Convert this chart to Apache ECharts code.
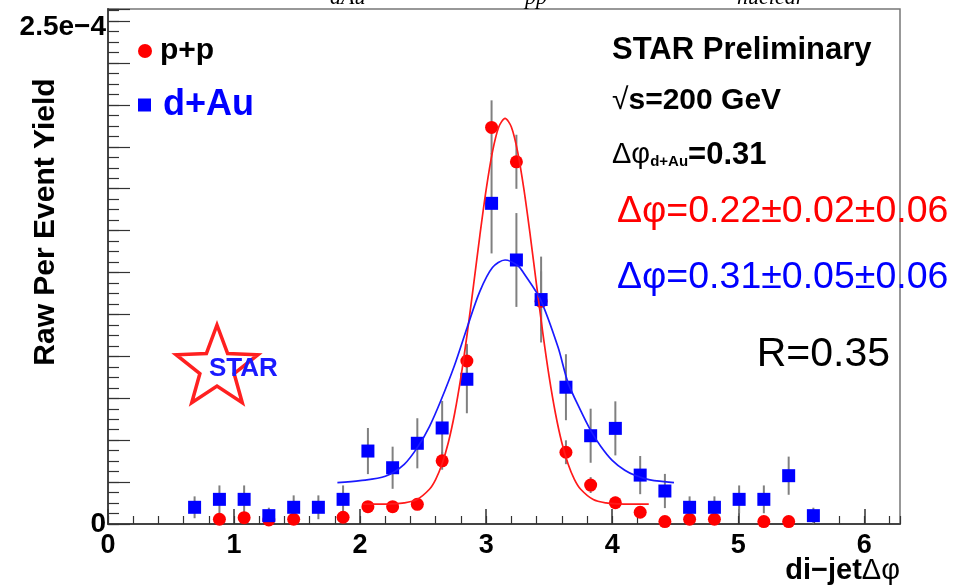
<!DOCTYPE html>
<html>
<head>
<meta charset="utf-8">
<script src="https://cdn.jsdelivr.net/npm/echarts@6/dist/echarts.min.js"></script>
<style>
html,body{margin:0;padding:0;background:#fff;}
#chart{width:955px;height:588px;}
</style>
</head>
<body>
<div id="chart"></div>
<script>
// Bin centres (di-jet delta phi)
const phiBins = [0.687,0.884,1.080,1.276,1.473,1.669,1.865,2.062,2.258,2.454,2.651,2.847,3.043,3.240,3.436,3.633,3.829,4.025,4.222,4.418,4.614,4.811,5.007,5.203,5.400,5.596];
// p+p raw per event yield (units of 1e-4)
const ppYield = [null,0.024,0.032,0.020,0.024,null,0.034,0.087,0.087,0.099,0.318,0.820,1.995,1.822,1.120,0.361,0.196,0.107,0.059,0.012,0.024,0.024,null,0.012,0.012,null];
const ppErr   = [null,0.025,0.025,0.025,0.025,null,0.025,0.025,0.025,0.025,0.045,0.086,0.136,0.136,0.151,0.060,0.040,0.030,0.025,0.025,0.025,0.025,null,0.025,0.025,null];
// d+Au raw per event yield (units of 1e-4)
const dAuYield = [0.084,0.124,0.124,0.042,0.084,0.084,0.124,0.367,0.283,0.406,0.483,0.728,1.613,1.328,1.129,0.688,0.444,0.481,0.246,0.166,0.084,0.084,0.124,0.124,0.243,0.042];
const dAuErr   = [0.055,0.070,0.070,0.040,0.060,0.060,0.070,0.116,0.106,0.126,0.136,0.171,0.252,0.236,0.216,0.166,0.136,0.136,0.096,0.086,0.055,0.055,0.070,0.070,0.096,0.040];
// Fit curves
const ppFitPhi = [2.02,2.15,2.25,2.35,2.45,2.55,2.60,2.65,2.70,2.75,2.80,2.85,2.90,2.95,3.00,3.05,3.10,3.15,3.20,3.25,3.30,3.35,3.40,3.45,3.50,3.55,3.60,3.65,3.70,3.75,3.85,3.95,4.05,4.15,4.29];
const ppFitVal = [0.100,0.100,0.101,0.106,0.123,0.175,0.225,0.302,0.410,0.556,0.740,0.959,1.202,1.451,1.682,1.872,1.997,2.040,1.997,1.872,1.682,1.451,1.202,0.959,0.740,0.556,0.410,0.302,0.225,0.175,0.123,0.106,0.101,0.100,0.100];
const dAuFitPhi = [1.82,2.00,2.20,2.35,2.46,2.55,2.64,2.75,2.85,2.95,3.05,3.15,3.25,3.30,3.43,3.57,3.65,3.75,3.83,3.91,4.00,4.10,4.18,4.30,4.49];
const dAuFitVal = [0.208,0.218,0.240,0.300,0.390,0.490,0.620,0.800,0.990,1.170,1.290,1.328,1.300,1.260,1.130,0.890,0.710,0.570,0.470,0.390,0.320,0.270,0.245,0.222,0.208];
// Axis tick labels
const xTickLabels = ['0','1','2','3','4','5','6'];
const yTickLabels = {0: '0', 2.5: '2.5e\u22124'};

const FONT = '"Liberation Sans", Arial, Helvetica, sans-serif';
const chart = echarts.init(document.getElementById('chart'), null, {renderer: 'canvas'});

function pts(xs, ys) {
  const out = [];
  xs.forEach((x, i) => { if (ys[i] !== null && ys[i] !== undefined) out.push([x, ys[i]]); });
  return out;
}
function errPts(xs, ys, es) {
  const out = [];
  xs.forEach((x, i) => { if (ys[i] !== null && ys[i] !== undefined) out.push([x, ys[i], es[i]]); });
  return out;
}
function errRender(params, api) {
  const x = api.value(0), y = api.value(1), e = api.value(2);
  const a = api.coord([x, y + e]);
  const b = api.coord([x, Math.max(0, y - e)]);
  return {type: 'line', shape: {x1: a[0], y1: a[1], x2: b[0], y2: b[1]},
          style: {stroke: '#808080', lineWidth: 2}};
}
const XMAX = 6.2832, YMAX = 2.5905, YMAJ = 0.2108;

function starPoints(cx, cy, R, r) {
  const p = [];
  for (let k = 0; k < 10; k++) {
    const ang = -Math.PI / 2 + k * Math.PI / 5;
    const rad = k % 2 === 0 ? R : r;
    p.push([cx + rad * Math.cos(ang), cy + rad * Math.sin(ang)]);
  }
  return p;
}

const tickCol = '#333';
const option = {
  animation: false,
  backgroundColor: '#fff',
  grid: {left: 108, right: 55, top: 9, bottom: 64, show: true, borderColor: '#777', borderWidth: 1.5, backgroundColor: 'transparent'},
  xAxis: [
    {type: 'value', min: 0, max: XMAX, interval: 1, position: 'bottom',
     axisLine: {show: true, onZero: false, lineStyle: {color: '#444', width: 2}},
     axisTick: {show: true, inside: true, length: 15, lineStyle: {color: tickCol, width: 1.5}},
     axisLabel: {show: true, showMaxLabel: false, margin: 8, color: '#000', fontSize: 27, fontWeight: 'bold', fontFamily: FONT,
       formatter: v => { const i = Math.round(v); return Math.abs(v - i) < 1e-6 && xTickLabels[i] !== undefined ? xTickLabels[i] : ''; }},
     splitLine: {show: false}},
    {type: 'value', min: 0, max: XMAX, interval: 0.2, position: 'bottom',
     axisLine: {show: false}, axisLabel: {show: false}, splitLine: {show: false},
     axisTick: {show: true, inside: true, length: 8, lineStyle: {color: tickCol, width: 1.2}}}
  ],
  yAxis: [
    {type: 'value', min: 0, max: YMAX, interval: 2.5, position: 'left',
     axisLine: {show: true, onZero: false, lineStyle: {color: '#444', width: 2}},
     axisTick: {show: false},
     axisLabel: {show: true, showMaxLabel: false, margin: 2, color: '#000', fontSize: 28, fontWeight: 'bold', fontFamily: FONT,
       formatter: v => { for (const k in yTickLabels) { if (Math.abs(v - Number(k)) < 1e-6) return yTickLabels[k]; } return ''; }},
     splitLine: {show: false}},
    {type: 'value', min: 0, max: YMAX, interval: YMAJ, position: 'left',
     axisLine: {show: false}, axisLabel: {show: false}, splitLine: {show: false},
     axisTick: {show: true, inside: true, length: 22, lineStyle: {color: tickCol, width: 1.2}}},
    {type: 'value', min: 0, max: YMAX, interval: YMAJ / 4, position: 'left',
     axisLine: {show: false}, axisLabel: {show: false}, splitLine: {show: false},
     axisTick: {show: true, inside: true, length: 11, lineStyle: {color: tickCol, width: 1.2}}}
  ],
  legend: [
    {data: [{name: 'p+p', icon: 'circle'}], left: 138, top: 36, padding: 0, itemWidth: 14, itemHeight: 14, itemGap: 0,
     selectedMode: false, textStyle: {fontSize: 30, fontWeight: 'bold', color: '#000', fontFamily: FONT, padding: [0, 0, 0, 3]}},
    {data: [{name: 'd+Au', icon: 'rect'}], left: 138, top: 87, padding: 0, itemWidth: 13, itemHeight: 13, itemGap: 0,
     selectedMode: false, textStyle: {fontSize: 36, fontWeight: 'bold', color: '#0000ff', fontFamily: FONT, padding: [0, 0, 0, 7]}}
  ],
  series: [
    {type: 'custom', name: 'ppErr', renderItem: errRender, data: errPts(phiBins, ppYield, ppErr), encode: {x: 0, y: 1}, z: 1, clip: true, silent: true},
    {type: 'custom', name: 'dAuErr', renderItem: errRender, data: errPts(phiBins, dAuYield, dAuErr), encode: {x: 0, y: 1}, z: 1, clip: true, silent: true},
    {type: 'scatter', name: 'p+p', data: pts(phiBins, ppYield), symbol: 'circle', symbolSize: 13,
     itemStyle: {color: '#ff0000', opacity: 1}, z: 3},
    {type: 'scatter', name: 'd+Au', data: pts(phiBins, dAuYield), symbol: 'rect', symbolSize: 13,
     itemStyle: {color: '#0000ff', opacity: 1}, z: 4},
    {type: 'line', name: 'ppFit', data: pts(ppFitPhi, ppFitVal), smooth: 0.3, showSymbol: false, symbol: 'none',
     lineStyle: {color: '#ff1a1a', width: 1.7}, z: 5, silent: true},
    {type: 'line', name: 'dAuFit', data: pts(dAuFitPhi, dAuFitVal), smooth: 0.3, showSymbol: false, symbol: 'none',
     lineStyle: {color: '#1a1aff', width: 1.7}, z: 5, silent: true}
  ],
  graphic: [
    // partially cut text at the very top
    {type: 'text', x: 330, y: 9, style: {text: 'dAu', font: 'italic 22px "Liberation Serif", serif', fill: '#000', align: 'left', verticalAlign: 'bottom', textAlign: 'left', textVerticalAlign: 'bottom'}},
    {type: 'text', x: 525, y: 9, style: {text: 'pp', font: 'italic 22px "Liberation Serif", serif', fill: '#000', align: 'left', verticalAlign: 'bottom', textAlign: 'left', textVerticalAlign: 'bottom'}},
    {type: 'text', x: 737, y: 9, style: {text: 'nuclear', font: 'italic 22px "Liberation Serif", serif', fill: '#000', align: 'left', verticalAlign: 'bottom', textAlign: 'left', textVerticalAlign: 'bottom'}},
    // axis titles
    {type: 'text', x: 46, y: 222, rotation: Math.PI / 2,
     style: {text: 'Raw Per Event Yield', font: 'bold 30px ' + FONT, fill: '#000', align: 'center', verticalAlign: 'middle', textAlign: 'center', textVerticalAlign: 'middle'}},
    {type: 'text', x: 900, y: 571,
     style: {text: '{b|di\u2212jet}{n|\u0394\u03c6}', align: 'right', verticalAlign: 'middle', textAlign: 'right', textVerticalAlign: 'middle',
       rich: {b: {fontSize: 29, fontWeight: 'bold', fontFamily: FONT, fill: '#000', color: '#000'},
              n: {fontSize: 29, fontFamily: FONT, fill: '#000', color: '#000'}}}},
    // annotations
    {type: 'text', x: 612, y: 50,
     style: {text: 'STAR Preliminary', font: 'bold 31px ' + FONT, fill: '#000', align: 'left', verticalAlign: 'middle', textAlign: 'left', textVerticalAlign: 'middle'}},
    {type: 'text', x: 612, y: 101,
     style: {text: '{n|\u221a}{b|s=200 GeV}', align: 'left', verticalAlign: 'middle', textAlign: 'left', textVerticalAlign: 'middle',
       rich: {n: {fontSize: 30, fontFamily: FONT, color: '#000', fill: '#000'},
              b: {fontSize: 30, fontWeight: 'bold', fontFamily: FONT, color: '#000', fill: '#000'}}}},
    {type: 'text', x: 612, y: 155,
     style: {text: '{n|\u0394\u03c6}{s|d+Au}{b|=0.31}', align: 'left', verticalAlign: 'middle', textAlign: 'left', textVerticalAlign: 'middle',
       rich: {n: {fontSize: 29, fontFamily: FONT, color: '#000', fill: '#000'},
              s: {fontSize: 15, fontWeight: 'bold', fontFamily: FONT, color: '#000', fill: '#000', padding: [14, 0, 0, 0]},
              b: {fontSize: 31, fontWeight: 'bold', fontFamily: FONT, color: '#000', fill: '#000'}}}},
    {type: 'text', x: 617, y: 212, z: 10,
     style: {text: '\u0394\u03c6=0.22\u00b10.02\u00b10.06', font: '37.5px ' + FONT, fill: '#ff0000', align: 'left', verticalAlign: 'middle', textAlign: 'left', textVerticalAlign: 'middle'}},
    {type: 'text', x: 617, y: 278, z: 10,
     style: {text: '\u0394\u03c6=0.31\u00b10.05\u00b10.06', font: '37.5px ' + FONT, fill: '#0000ff', align: 'left', verticalAlign: 'middle', textAlign: 'left', textVerticalAlign: 'middle'}},
    {type: 'text', x: 890, y: 355, z: 10,
     style: {text: 'R=0.35', font: '41px ' + FONT, fill: '#000', align: 'right', verticalAlign: 'middle', textAlign: 'right', textVerticalAlign: 'middle'}},
    // STAR logo
    {type: 'polygon', z: 2, shape: {points: starPoints(217, 368, 43, 18)},
     style: {fill: 'rgba(255,255,255,0)', stroke: '#ff2020', lineWidth: 3.5}},
    {type: 'text', x: 209, y: 369, z: 3,
     style: {text: 'STAR', font: 'bold 26px ' + FONT, fill: '#1a1aff', align: 'left', verticalAlign: 'middle', textAlign: 'left', textVerticalAlign: 'middle'}}
  ]
};
chart.setOption(option);
</script>
</body>
</html>
